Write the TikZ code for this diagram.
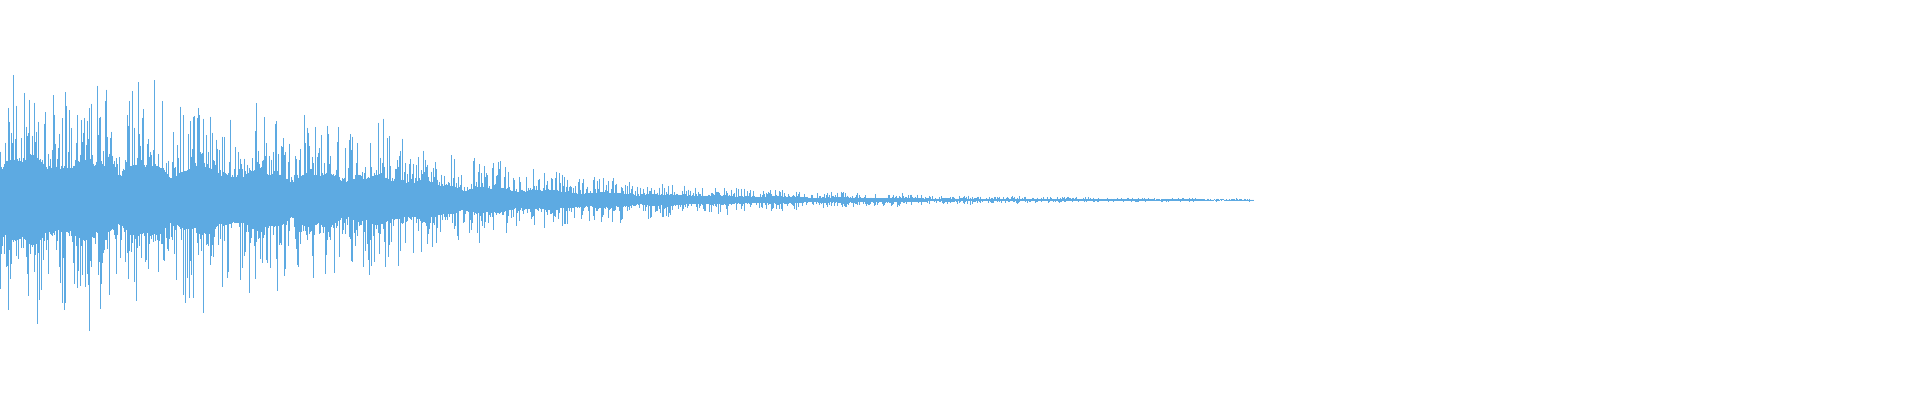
\documentclass[tikz,border=0pt]{standalone}
\definecolor{wave}{RGB}{93,170,226}
\begin{document}
\begin{tikzpicture}[wv/.style={draw=wave,line width=0.18pt}]
\useasboundingbox (0,0) rectangle (19.2,4);
\pgfmathsetseed{11}
\foreach \i in {0,...,1254}{
 \pgfmathsetmacro\base{\i<430 ? 165*exp(-\i/600) : 62*exp(-(\i-430)/210)}
 \pgfmathsetmacro\env{0.5+\base*(0.55+0.3*abs(sin(\i*3.1))+0.15*abs(sin(\i*7.3+20)))}
 \pgfmathsetmacro\up{\env*(0.28+0.72*rnd^3)}
 \pgfmathsetmacro\dn{\env*(0.28+0.72*rnd^3)}
 \draw[wv] (\i*0.01,2+\up*0.01) -- (\i*0.01,2-\dn*0.01);
}
\end{tikzpicture}
\end{document}
